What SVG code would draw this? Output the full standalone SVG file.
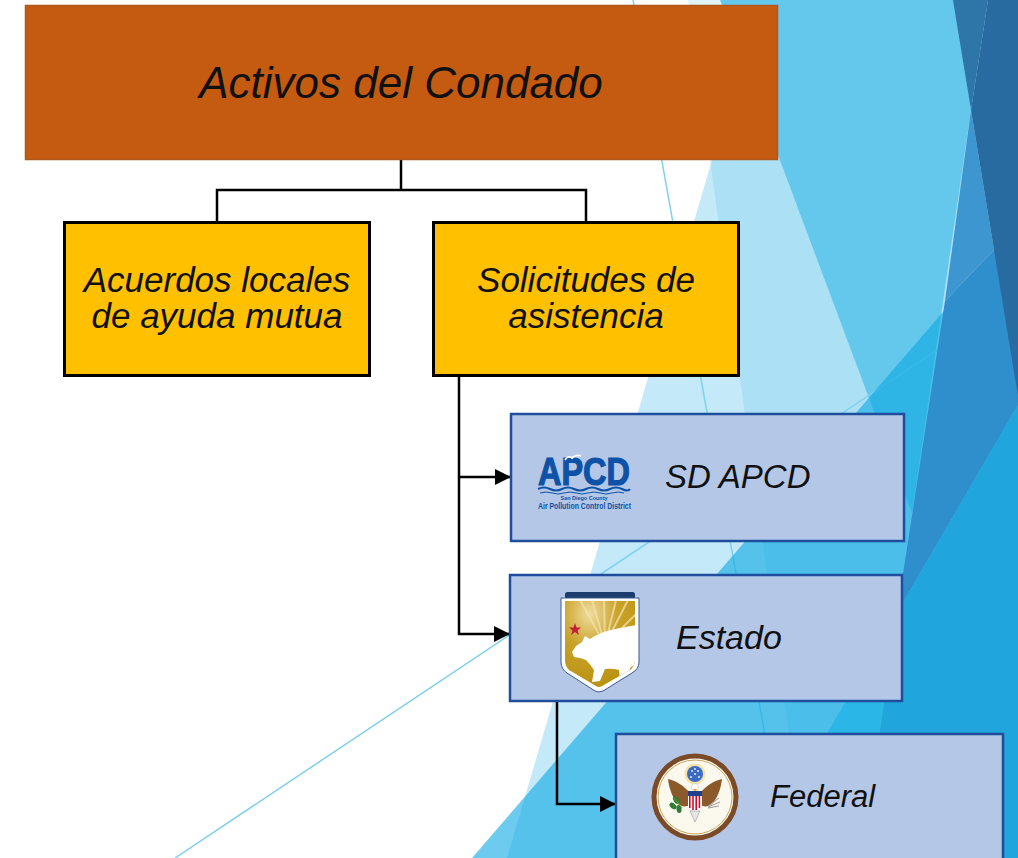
<svg xmlns="http://www.w3.org/2000/svg" width="1018" height="858" viewBox="0 0 1018 858">
<style>
.lbl{font-family:"Liberation Sans",Arial,sans-serif;font-style:italic;fill:#111}
.conn{fill:none;stroke:#000;stroke-width:2.5;stroke-linejoin:miter}
.ybox{fill:#ffc000;stroke:#000;stroke-width:3}
.bbox{fill:#b4c7e7;stroke:#1f4e9c;stroke-width:2.5}
.thin{stroke:#80d0ef;stroke-width:1.5;fill:none}
.logo{font-family:"Liberation Sans",Arial,sans-serif;font-weight:bold;fill:#0d52a6}
</style>
<defs>
<marker id="arrow" markerUnits="userSpaceOnUse" markerWidth="16" markerHeight="16" refX="16" refY="8" orient="auto">
<path d="M0,0 L16,8 L0,16 Z" fill="#000"/>
</marker>
<radialGradient id="gold" cx="0.35" cy="0.15" r="0.9">
<stop offset="0" stop-color="#f0dc9c"/>
<stop offset="0.45" stop-color="#c9a22a"/>
<stop offset="1" stop-color="#b8900f"/>
</radialGradient>
<clipPath id="shieldClip">
<path d="M565,601 L635,601 L635,660 Q635,666 630,670 L602,686 Q599,688 596,686 L569,670 Q565,666 565,660 Z"/>
</clipPath>
</defs>
<rect width="1018" height="858" fill="#fff"/>
<g id="background">
<polygon points="759,0 1018,0 1018,858 507,858" fill="#00a2e0" fill-opacity="0.23"/>
<polygon points="688,0 1018,0 1018,858 806,858" fill="#00a2e0" fill-opacity="0.12"/>
<polygon points="720,0 955,0 971,110 912,513" fill="#64c8ec"/>
<line class="thin" x1="633" y1="0" x2="787" y2="858"/>
<line class="thin" x1="175" y1="858" x2="937" y2="350"/>
<polygon points="472,858 1018,225 1018,858" fill="#0aa8e3" fill-opacity="0.6"/>
<polygon points="945,301 1018,225 1018,405 897,613" fill="#2f8fcc"/>
<polygon points="971,110 994,250 945,301" fill="#3e96d0"/>
<polygon points="988,0 1018,0 1018,396 971,110" fill="#286ba0"/>
<polygon points="953,0 988,0 971,110" fill="#2e75a8"/>
<polygon points="1018,405 1018,858 861,858 897,613" fill="#20a6dc"/>
<polygon points="897,613 861,858 755,858" fill="#2ab6e6"/>
</g>
<g id="connectors">
<path class="conn" d="M401,160 V190"/>
<path class="conn" d="M217,222 V190 H586 V222"/>
<path class="conn" d="M459,376 V634 H510" marker-end="url(#arrow)"/>
<path class="conn" d="M459,477 H511" marker-end="url(#arrow)"/>
<path class="conn" d="M557,701 V804 H616" marker-end="url(#arrow)"/>
</g>
<g id="node-activos">
<rect x="25.5" y="5.5" width="752" height="154" fill="#c55a11" stroke="#b0581c" stroke-width="1.5"/>
<text class="lbl" x="401" y="98" font-size="44" text-anchor="middle">Activos del Condado</text>
</g>
<g id="node-acuerdos">
<rect class="ybox" x="64.5" y="222.5" width="305" height="153"/>
<text class="lbl" x="217" y="292" font-size="35" text-anchor="middle">Acuerdos locales</text>
<text class="lbl" x="217" y="328" font-size="35" text-anchor="middle">de ayuda mutua</text>
</g>
<g id="node-solicitudes">
<rect class="ybox" x="433.5" y="222.5" width="305" height="153"/>
<text class="lbl" x="586" y="292" font-size="35" text-anchor="middle">Solicitudes de</text>
<text class="lbl" x="586" y="328" font-size="35" text-anchor="middle">asistencia</text>
</g>
<g id="node-apcd">
<rect class="bbox" x="511" y="414" width="393" height="127"/>
<g id="apcd-logo">
<text class="logo" x="584" y="485" font-size="39" text-anchor="middle" textLength="92" lengthAdjust="spacingAndGlyphs" stroke="#0d52a6" stroke-width="1.2">APCD</text>
<path d="M565,460 Q568,455 572,458 Q576,454 581,456" stroke="#fff" stroke-width="1.8" fill="none"/>
<path d="M538,489 q6,-3 12,0 t12,0 t12,0 t12,0 t12,0 t12,0 t12,0 t8,0" stroke="#0d52a6" stroke-width="2" fill="none"/>
<path d="M540,493 q6,-2 12,0 t12,0 t12,0 t12,0 t12,0 t12,0 t12,0" stroke="#0d52a6" stroke-width="1" fill="none"/>
<text class="logo" x="584" y="500" font-size="5.5" text-anchor="middle" textLength="47" lengthAdjust="spacingAndGlyphs">San Diego County</text>
<text class="logo" x="584.5" y="509" font-size="8.5" text-anchor="middle" textLength="93" lengthAdjust="spacingAndGlyphs">Air Pollution Control District</text>
</g>
<text class="lbl" x="665" y="488" font-size="33">SD APCD</text>
</g>
<g id="node-estado">
<rect class="bbox" x="510" y="575" width="392" height="126"/>
<g id="ca-seal">
<rect x="565" y="592" width="70" height="7" rx="2.5" fill="#1d3c6e"/>
<path d="M561,598 L639,598 L639,662 Q639,669 632,673 L603,691 Q599,693 595,691 L567,673 Q561,669 561,662 Z" fill="#fff" stroke="#3a5a8c" stroke-width="1"/>
<path d="M565,601 L635,601 L635,660 Q635,666 630,670 L602,686 Q599,688 596,686 L569,670 Q565,666 565,660 Z" fill="url(#gold)"/>
<g clip-path="url(#shieldClip)" stroke="#f3e4b0" stroke-width="2" stroke-opacity="0.7">
<line x1="605" y1="645" x2="580" y2="600"/>
<line x1="605" y1="645" x2="592" y2="600"/>
<line x1="605" y1="645" x2="604" y2="600"/>
<line x1="605" y1="645" x2="616" y2="600"/>
<line x1="605" y1="645" x2="628" y2="600"/>
<line x1="605" y1="645" x2="640" y2="610"/>
</g>
<g clip-path="url(#shieldClip)">
<path d="M572,652 L576,646 L582,642 L585,636 L590,639 Q600,632 615,629 L636,625 L636,664 L630,668 L628,681 L620,682 L619,670 Q612,668 605,669 L600,681 L592,682 L594,670 Q590,664 586,660 L580,658 L574,657 Z" fill="#fff"/>
</g>
<polygon points="575,623 576.5,627.5 581,627.5 577.5,630.5 579,635 575,632 571,635 572.5,630.5 569,627.5 573.5,627.5" fill="#c41e3a"/>
</g>
<text class="lbl" x="676" y="649" font-size="34">Estado</text>
</g>
<g id="node-federal">
<rect class="bbox" x="616" y="734" width="387" height="140"/>
<g id="us-seal">
<circle cx="695" cy="797" r="41" fill="#fbf8ee" stroke="#7b4a26" stroke-width="5"/>
<circle cx="695" cy="797" r="37" fill="none" stroke="#caa85a" stroke-width="1"/>
<circle cx="695" cy="774" r="10.5" fill="#f3e3a6"/>
<circle cx="695" cy="774" r="8" fill="#3c6bc4"/>
<g fill="#dfe8ff">
<circle cx="692" cy="771" r="1"/><circle cx="698" cy="771" r="1"/><circle cx="695" cy="774" r="1"/>
<circle cx="691" cy="777" r="1"/><circle cx="699" cy="777" r="1"/><circle cx="695" cy="769" r="1"/>
</g>
<path d="M690,793 C684,786 677,781 668,779 C669,788 672,797 678,804 C682,807 686,807 690,805 Z" fill="#8a5a2b"/>
<path d="M700,793 C706,786 713,781 722,779 C721,788 718,797 712,804 C708,807 704,807 700,805 Z" fill="#8a5a2b"/>
<circle cx="695" cy="787" r="3.5" fill="#fff" stroke="#bbb" stroke-width="0.5"/>
<path d="M693,789 L697,789 L695,792 Z" fill="#e0b030"/>
<rect x="688" y="791" width="14" height="5" fill="#1f3f8f"/>
<path d="M688,796 H702 V805 Q702,809 695,811 Q688,809 688,805 Z" fill="#fff"/>
<g fill="#c8102e">
<rect x="689" y="796" width="1.6" height="12"/><rect x="692.2" y="796" width="1.6" height="14"/>
<rect x="695.4" y="796" width="1.6" height="14"/><rect x="698.6" y="796" width="1.6" height="12"/>
</g>
<path d="M690,811 L695,822 L700,811 Z" fill="#e6e6e6" stroke="#999" stroke-width="0.6"/>
<g fill="#2e7d32">
<ellipse cx="676" cy="800" rx="2.5" ry="4" transform="rotate(-30 676 800)"/>
<ellipse cx="673" cy="806" rx="2.5" ry="4" transform="rotate(-50 673 806)"/>
<ellipse cx="679" cy="809" rx="2.5" ry="4" transform="rotate(-10 679 809)"/>
</g>
<path d="M682,808 L674,798" stroke="#5a3" stroke-width="1"/>
<g stroke="#999" stroke-width="1">
<line x1="708" y1="806" x2="719" y2="798"/><line x1="708" y1="807" x2="720" y2="802"/><line x1="708" y1="808" x2="719" y2="806"/>
</g>
</g>
<text class="lbl" x="770" y="807" font-size="31">Federal</text>
</g>
</svg>
